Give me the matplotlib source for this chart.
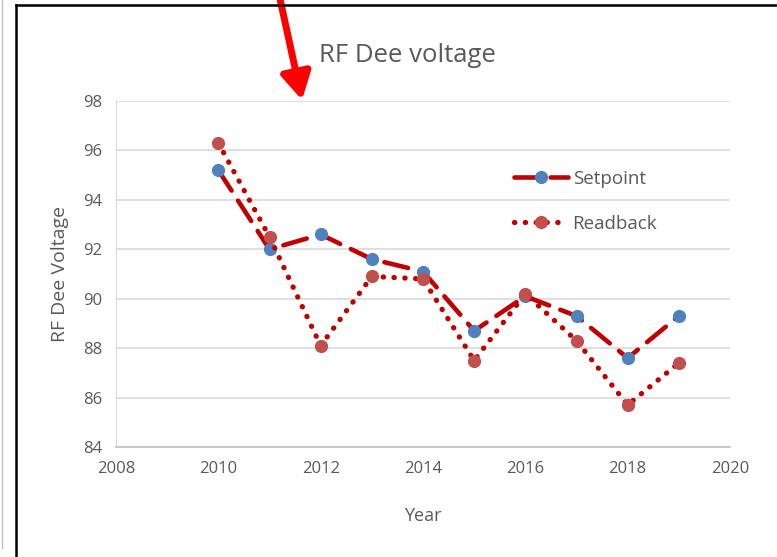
import matplotlib.pyplot as plt
from matplotlib.lines import Line2D

# Data
years = [2010, 2011, 2012, 2013, 2014, 2015, 2016, 2017, 2018, 2019]
setpoint = [95.2, 92.0, 92.6, 91.6, 91.1, 88.7, 90.1, 89.3, 87.6, 89.3]
readback = [96.3, 92.5, 88.1, 90.9, 90.8, 87.5, 90.2, 88.3, 85.7, 87.4]
x_ticks = [2008, 2010, 2012, 2014, 2016, 2018, 2020]
y_ticks = [84, 86, 88, 90, 92, 94, 96, 98]

plt.rcParams['font.family'] = ['Open Sans', 'DejaVu Sans']
txt = '#595959'
dark_red = '#C00000'

fig = plt.figure(figsize=(7.77, 5.57), dpi=100)
W, H = 777, 557
ax = fig.add_axes([116 / W, 1 - 447 / H, (730 - 116) / W, (447 - 101) / H])

ax.plot(years, setpoint, color=dark_red, lw=3.3, dashes=(5.3, 2.6),
        dash_capstyle='round', marker='o', ms=8.5, mfc='#4F81BD', mec='#4F81BD',
        label='Setpoint', zorder=3)
ax.plot(years, readback, color=dark_red, lw=3.8, dashes=(0.05, 2.0),
        dash_capstyle='round', marker='o', ms=8.5, mfc='#C0504D', mec='#C0504D',
        label='Readback', zorder=3)

ax.set_xlim(2008, 2020)
ax.set_ylim(84, 98)
ax.set_xticks(x_ticks)
ax.set_yticks(y_ticks)
ax.grid(axis='y', color='#D9D9D9', lw=1.2)
ax.set_axisbelow(True)
for s in ['top', 'right']:
    ax.spines[s].set_visible(False)
ax.spines['left'].set_color('#D9D9D9')
ax.spines['bottom'].set_color('#BFBFBF')
ax.spines['bottom'].set_linewidth(1.2)
ax.tick_params(length=0, labelsize=12, colors=txt, pad=10)

ax.set_title('RF Dee voltage', fontsize=18.5, color=txt, pad=28, x=0.475)
ax.set_xlabel('Year', fontsize=13, color=txt, labelpad=22)
ax.set_ylabel('RF Dee Voltage', fontsize=14, color=txt, labelpad=10)

ax.legend(loc='upper left', bbox_to_anchor=(0.62, 0.85), frameon=False,
          fontsize=13.5, labelcolor=txt, handlelength=2.9, labelspacing=1.45,
          handletextpad=0.25)

# outer frame
fig.add_artist(Line2D([16 / W, 16 / W], [0, 1 - 5 / H], color='black', lw=1.8))
fig.add_artist(Line2D([16 / W, 1], [1 - 5 / H, 1 - 5 / H], color='black', lw=1.8))
fig.add_artist(Line2D([2 / W, 2 / W], [1 - 548 / H, 1], color='#BFBFBF', lw=1))

# red arrow
ax.annotate('', xy=(302 / W, 1 - 100 / H), xycoords='figure fraction',
            xytext=(279 / W, 1.01), textcoords='figure fraction',
            arrowprops=dict(arrowstyle='-|>,head_length=1.6,head_width=0.9',
                            color='#FF0000', lw=5, shrinkA=0, shrinkB=0),
            annotation_clip=False)

fig.savefig('out.png', dpi=100)
